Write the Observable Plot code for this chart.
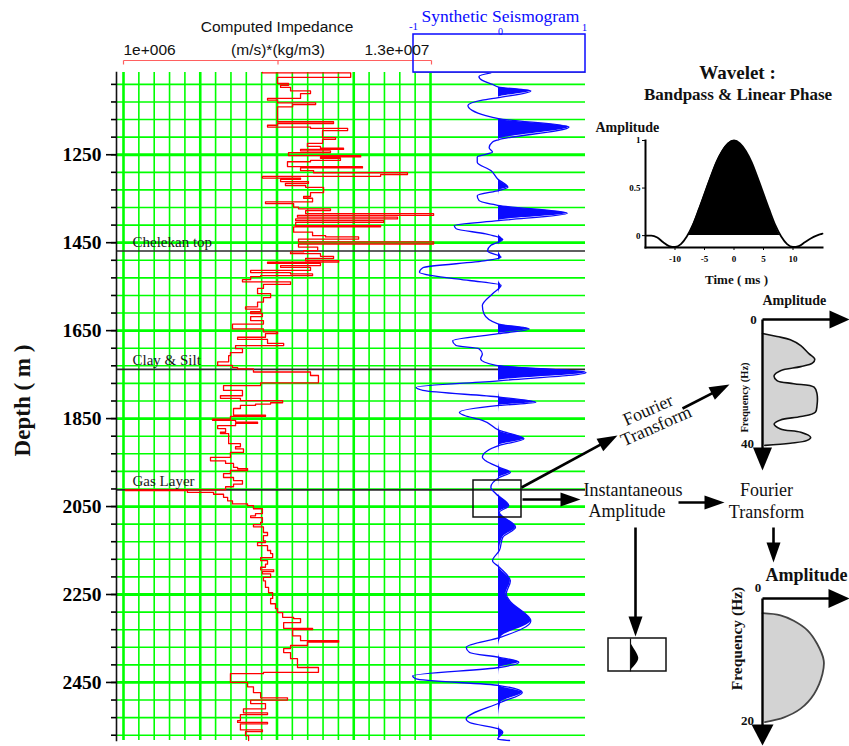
<!DOCTYPE html>
<html><head><meta charset="utf-8">
<script src="https://cdn.jsdelivr.net/npm/d3@7"></script>
<script src="https://cdn.jsdelivr.net/npm/@observablehq/plot@0.6"></script>
<style>
html,body{margin:0;padding:0;background:#fff;}
#fig{position:relative;width:849px;height:746px;overflow:hidden;background:#fff;}
</style></head><body><div id="fig"></div>
<script>
// ---------------- DATA ----------------
const depthDomain = [1063, 2582];                 // m
const depthTicks = d3.range(1090, 2571, 40);      // minor ticks / grid
const depthLabels = [1250, 1450, 1650, 1850, 2050, 2250, 2450];
const impedanceDomain = [1, 13];                  // x 1e6 (m/s)*(kg/m3)
const impedanceGrid = [1,1.6,2.2,2.8,3.4,4,4.6,5.2,5.8,6.4,7,7.6,8.2,8.8,9.4,10,10.6,11.2,11.8,12.4,13];
const impedanceBold = [1, 4, 7, 10, 13];
const impedanceEndLabels = ["1e+006", "1.3e+007"];
const formationNames = ["Chelekan top", "Clay & Silt", "Gas Layer"];
const formationDepths = [1469, 1738, 2012];
const seismoTicks = [-1, 0, 1];

// [top depth (m), impedance x1e6]
const impedanceLog = [
[1063,6.43],[1064,9.88],[1074,7.02],[1088,7.45],[1092,7.14],[1097,7.53],[1105,8.31],[1111,7.92],[1122,6.63],[1126,7.02],[1132,8.51],[1136,7.61],[1141,7.02],[1175,9.21],[1179,7.02],[1183,6.63],[1187,8.31],[1190,9.76],[1195,8.78],[1211,9.29],[1215,8.78],[1224,8.19],[1231,8.70],[1235,9.60],[1238,7.92],[1241,9.09],[1245,7.45],[1252,10.27],[1255,8.70],[1258,9.48],[1263,8.31],[1266,7.41],[1277,10.34],[1280,7.92],[1286,8.43],[1291,12.10],[1295,11.05],[1299,6.43],[1303,7.92],[1306,7.14],[1311,8.23],[1315,7.33],[1320,8.12],[1324,8.82],[1336,8.31],[1345,8.04],[1349,8.39],[1357,6.55],[1361,7.65],[1369,7.84],[1373,9.09],[1377,8.12],[1384,13.12],[1388,7.80],[1392,11.71],[1396,7.73],[1400,11.17],[1404,7.73],[1411,11.05],[1414,7.65],[1426,8.39],[1434,8.90],[1437,10.19],[1442,7.84],[1448,13.12],[1453,7.84],[1460,8.59],[1468,8.04],[1471,7.53],[1475,8.70],[1481,9.21],[1486,8.12],[1491,9.41],[1494,6.63],[1497,8.70],[1502,7.14],[1506,8.31],[1513,5.97],[1518,7.53],[1521,8.39],[1525,6.36],[1527,5.97],[1534,5.65],[1539,7.53],[1545,6.47],[1554,6.24],[1566,6.75],[1575,6.47],[1585,6.24],[1596,5.77],[1601,6.36],[1607,5.97],[1611,6.43],[1618,5.97],[1627,6.47],[1635,5.26],[1646,6.47],[1653,7.02],[1657,6.55],[1665,5.46],[1670,6.63],[1679,7.26],[1684,5.38],[1691,5.65],[1700,5.18],[1707,5.11],[1721,4.68],[1729,5.26],[1734,5.46],[1737,6.08],[1744,8.31],[1752,8.62],[1769,6.36],[1775,4.91],[1786,5.65],[1798,4.79],[1804,5.57],[1809,7.22],[1814,6.75],[1817,6.16],[1820,5.57],[1827,5.30],[1842,6.55],[1845,5.18],[1851,4.48],[1854,5.38],[1858,6.24],[1861,5.38],[1866,4.68],[1873,4.99],[1881,4.79],[1884,5.11],[1907,5.57],[1914,5.38],[1919,5.69],[1927,5.18],[1938,4.40],[1946,4.99],[1952,5.30],[1961,5.46],[1964,5.85],[1968,5.18],[1975,4.91],[1984,5.30],[1991,5.65],[1999,5.30],[2005,4.99],[2012,1.08],[2014,3.50],[2018,4.52],[2022,4.91],[2029,5.07],[2037,5.26],[2044,5.85],[2048,6.08],[2055,6.43],[2066,6.16],[2071,5.97],[2075,6.43],[2086,6.36],[2091,6.08],[2096,6.47],[2109,6.63],[2116,6.47],[2128,6.55],[2132,6.24],[2139,6.63],[2150,6.75],[2157,6.83],[2166,6.36],[2173,6.63],[2181,6.55],[2188,6.36],[2194,6.87],[2198,6.43],[2203,6.75],[2211,6.47],[2219,6.55],[2234,6.67],[2246,6.83],[2259,6.75],[2271,6.94],[2282,7.02],[2291,7.22],[2302,7.65],[2305,7.92],[2314,7.26],[2327,8.39],[2330,7.61],[2344,7.92],[2355,9.41],[2358,8.19],[2366,7.53],[2373,7.26],[2382,7.53],[2396,7.80],[2416,8.62],[2427,6.47],[2430,5.18],[2450,5.85],[2460,6.08],[2473,6.36],[2485,7.41],[2490,5.97],[2498,6.55],[2510,5.69],[2519,6.63],[2523,5.57],[2537,5.46],[2541,6.63],[2544,5.57],[2558,6.43],[2562,5.77],[2571,5.89],[2582,5.89]
];

// [depth (m), normalised amplitude]
const seismogram = [
[1064,-0.09],[1072,-0.23],[1081,-0.19],[1090,-0.07],[1096,0],[1105,0.38],[1120,0],[1126,-0.19],[1138,-0.36],[1149,-0.31],[1161,-0.15],[1168,0],[1187,0.83],[1216,0],[1221,-0.07],[1234,-0.11],[1244,-0.07],[1255,-0.25],[1267,-0.25],[1286,-0.09],[1305,-0.01],[1324,0.11],[1331,0.01],[1343,-0.25],[1354,-0.23],[1365,-0.01],[1383,0.81],[1400,0],[1411,-0.52],[1418,-0.50],[1430,-0.15],[1443,0.05],[1456,-0.09],[1469,-0.13],[1483,0.03],[1491,-0.15],[1507,-0.89],[1517,-0.93],[1525,-0.78],[1536,-0.34],[1547,0.03],[1566,-0.07],[1593,-0.19],[1612,-0.17],[1635,0],[1646,0.36],[1657,0],[1673,-0.54],[1684,-0.50],[1691,-0.23],[1703,-0.19],[1714,-0.21],[1729,-0.03],[1745,1.03],[1764,0],[1779,-0.97],[1786,-0.89],[1801,0.01],[1813,0.44],[1820,0.01],[1836,-0.46],[1843,-0.40],[1854,-0.19],[1877,0.01],[1896,0.30],[1911,0.01],[1938,-0.19],[1946,-0.15],[1961,0.01],[1972,0.14],[1984,0.01],[2006,-0.09],[2021,-0.03],[2048,0.12],[2063,0.01],[2097,0.20],[2120,0.05],[2150,0.01],[2173,-0.07],[2188,0.01],[2219,0.14],[2249,0.09],[2264,0.13],[2310,0.38],[2347,0.03],[2370,-0.38],[2382,-0.34],[2393,0.01],[2404,0.24],[2416,0.01],[2435,-1.01],[2442,-0.97],[2457,0.01],[2473,0.28],[2495,0.03],[2533,-0.38],[2541,-0.34],[2556,0.01],[2564,0.05],[2579,-0.01],[2582,0.13]
];

// wavelet: time (ms) and amplitude
const waveletTime = [-15,-14,-13,-12,-11,-10,-9,-8,-7,-6,-5,-4,-3,-2,-1,0,1,2,3,4,5,6,7,8,9,10,11,12,13,14,15];
const waveletAmp  = [0,0,-0.02,-0.07,-0.11,-0.12,-0.09,-0.01,0.11,0.27,0.44,0.61,0.77,0.89,0.97,1,0.97,0.89,0.77,0.61,0.44,0.27,0.11,-0.01,-0.09,-0.12,-0.11,-0.07,-0.03,0,0.02];
const waveletYTicks = [0, 0.5, 1];
const waveletXTicks = [-10, -5, 0, 5, 10];

// amplitude spectra: [frequency (Hz), relative amplitude]
const spectrumTrace = [[4.5,0],[5.5,0.25],[6.5,0.48],[8.4,0.66],[11,0.8],[12.7,0.9],[14.1,0.86],[15.2,0.66],[16.5,0.31],[18.1,0.2],[19.7,0.25],[20.7,0.54],[21.8,0.89],[24,0.94],[27.7,0.94],[29.9,0.91],[31.3,0.66],[32.4,0.31],[33.7,0.2],[35.3,0.31],[36.4,0.66],[38,0.83],[39,0.77],[39.9,0.48],[40.6,0.04]];
const spectrumEnvelope = [[2.45,0],[2.8,0.3],[3.7,0.52],[5.3,0.75],[7.55,0.91],[10.3,1.02],[12.55,1.0],[15.9,0.86],[18.4,0.63],[19.8,0.36],[20.6,0.04]];
// instantaneous amplitude of the windowed trace: [relative time, amplitude]
const instAmplitude = [[0.14,0],[0.25,0.2],[0.38,0.42],[0.5,0.6],[0.6,0.69],[0.7,0.62],[0.8,0.42],[0.9,0.18],[0.97,0]];

// ---------------- STYLE / HELPERS ----------------
const W = 849, H = 746;
const GREEN = "#00ff00", RED = "#ff0000", BLUE = "#0a0aff";
const SERIF = "'Liberation Serif','DejaVu Serif',serif";
const SANS = "'Liberation Sans','DejaVu Sans',sans-serif";
const fig = document.getElementById("fig");
const layerStyle = (extra) => Object.assign({background:"transparent", position:"absolute", left:"0px", top:"0px", overflow:"visible", fontFamily: SERIF}, extra || {});
function add(p){ fig.appendChild(p); return p; }

// ---------------- MAIN PANEL: impedance log ----------------
const formations = formationNames.map((name, i) => ({name, depth: formationDepths[i]}));
const main = add(Plot.plot({
  width: W, height: H,
  marginLeft: 116, marginRight: 264, marginTop: 72, marginBottom: 6,
  style: layerStyle({fontSize: "19.5px", fontWeight: "bold", color: "#000"}),
  x: {domain: impedanceDomain, range: [123, 430], axis: null},
  y: {domain: depthDomain, reverse: true, axis: null},
  marks: [
    Plot.ruleX(impedanceGrid.filter(v => !impedanceBold.includes(v)), {stroke: GREEN, strokeWidth: 1.6}),
    Plot.ruleX(impedanceBold, {stroke: GREEN, strokeWidth: 2.6}),
    Plot.ruleY(depthTicks.filter(d => !depthLabels.includes(d)), {stroke: GREEN, strokeWidth: 1.6}),
    Plot.ruleY(depthLabels, {stroke: GREEN, strokeWidth: 2.8}),
    Plot.ruleY(formations, {y: "depth", stroke: "#2a2a2a", strokeWidth: 1.6}),
    Plot.text(formations, {y: "depth", text: "name", frameAnchor: "left", dx: 16, dy: -4, lineAnchor: "bottom", textAnchor: "start", fontSize: 15, fontWeight: "normal", fill: "#1a1a1a"}),
    Plot.line(impedanceLog, {x: d => d[1], y: d => d[0], curve: "step-before", stroke: RED, strokeWidth: 1.3}),
    Plot.frame({anchor: "left", stroke: "#111", strokeWidth: 1.6}),
    Plot.axisY(depthTicks, {tickSize: 5, tickFormat: () => "", strokeWidth: 1.6, label: null}),
    Plot.axisY(depthLabels, {tickSize: 10, tickPadding: 5, tickFormat: d => String(d), strokeWidth: 1.6, label: null}),
    Plot.text(["Depth ( m )"], {frameAnchor: "left", textAnchor: "middle", lineAnchor: "middle", rotate: -90, dx: -94, dy: -6, fontSize: 23, fontWeight: "bold", fill: "#111"})
  ]
}));

// ---------------- SEISMOGRAM PANEL ----------------
const seis = add(Plot.plot({
  width: W, height: H,
  marginLeft: 413, marginRight: 266, marginTop: 72, marginBottom: 6,
  style: layerStyle(),
  x: {domain: [-1, 1], axis: null},
  y: {domain: depthDomain, reverse: true, axis: null},
  marks: [
    Plot.areaX(seismogram, {y: d => d[0], x1: 0, x2: d => Math.max(0, d[1]), curve: "monotone-y", fill: BLUE}),
    Plot.lineX(seismogram, {y: d => d[0], x: d => d[1], curve: "monotone-y", stroke: BLUE, strokeWidth: 1.3})
  ]
}));

// ---------------- WAVELET INSET ----------------
const wavelet = waveletTime.map((t, i) => ({t, a: waveletAmp[i]}));
add(Plot.plot({
  width: W, height: H,
  marginLeft: 645, marginRight: 27, marginTop: 140, marginBottom: 499,
  style: layerStyle({fontSize: "9px", fontWeight: "bold"}),
  x: {domain: [-15, 15], axis: null},
  y: {domain: [-0.125, 1], axis: null},
  marks: [
    Plot.areaY(wavelet, {x: "t", y1: 0, y2: d => Math.max(0, d.a), curve: "monotone-x", fill: "#000"}),
    Plot.lineY(wavelet, {x: "t", y: "a", curve: "monotone-x", stroke: "#000", strokeWidth: 1.8}),
    Plot.frame({anchor: "left", stroke: "#000", strokeWidth: 2}),
    Plot.frame({anchor: "bottom", stroke: "#000", strokeWidth: 2}),
    Plot.axisY(waveletYTicks, {tickSize: 3, tickPadding: 2, tickFormat: d => String(d), label: null}),
    Plot.axisX(waveletXTicks, {tickSize: 3, tickPadding: 5, tickFormat: d => String(d), label: null})
  ]
}));

// ---------------- SPECTRA ----------------
function spectrumPlot(data, ml, mr, mt, mb, fmax, outline, sw) {
  return Plot.plot({
    width: W, height: H, marginLeft: ml, marginRight: mr, marginTop: mt, marginBottom: mb,
    style: layerStyle(),
    x: {domain: [0, 1], axis: null},
    y: {domain: [0, fmax], reverse: true, axis: null},
    marks: [
      Plot.areaX(data, {y: d => d[0], x1: 0, x2: d => d[1], curve: "catmull-rom", fill: "#d3d3d3"}),
      Plot.lineX(data, {y: d => d[0], x: d => d[1], curve: "catmull-rom", stroke: outline, strokeWidth: sw})
    ]
  });
}
add(spectrumPlot(spectrumTrace, 762, 29, 319, 303, 40, "#111", 1.6));
add(spectrumPlot(spectrumEnvelope, 762, 27, 598, 28, 20, "#444", 1.8));

// instantaneous amplitude mini panel
add(Plot.plot({
  width: W, height: H, marginLeft: 630, marginRight: 207, marginTop: 638, marginBottom: 75,
  style: layerStyle(),
  x: {domain: [0, 1], axis: null},
  y: {domain: [0, 1], reverse: true, axis: null},
  marks: [
    Plot.areaX(instAmplitude, {y: d => d[0], x1: 0, x2: d => d[1], curve: "catmull-rom", fill: "#000"})
  ]
}));

// ---------------- ANNOTATION LAYER ----------------
const mx = main.scale("x"), sx = seis.scale("x");
const impL = mx.apply(impedanceDomain[0]), impR = mx.apply(impedanceDomain[1]), impC = (impL + impR) / 2;
const sL = sx.apply(-1), sR = sx.apply(1), s0 = sx.apply(0);

const labelTexts = [
  {text: "Computed Impedance", x: impC, y: 31.5, size: 15.5, family: SANS, weight: "normal"},
  {text: "(m/s)*(kg/m3)", x: impC + 1, y: 54.5, size: 15.5, family: SANS, weight: "normal"},
  {text: impedanceEndLabels[0], x: impL, y: 54.5, size: 15.5, family: SANS, weight: "normal", anchor: "start"},
  {text: impedanceEndLabels[1], x: impR - 1, y: 54.5, size: 15.5, family: SANS, weight: "normal", anchor: "end"},
  {text: "Synthetic Seismogram", x: s0 + 2, y: 21, size: 17.5, color: BLUE, weight: "normal"},
  {text: String(seismoTicks[0]), x: sL, y: 29, size: 11, color: BLUE, weight: "normal"},
  {text: String(seismoTicks[1]), x: s0 + 2, y: 34.5, size: 10, color: BLUE, weight: "normal"},
  {text: String(seismoTicks[2]), x: sR + 1, y: 30, size: 11, color: BLUE, weight: "normal"},
  {text: "Wavelet :", x: 737, y: 78, size: 19, weight: "bold"},
  {text: "Bandpass & Linear Phase", x: 737.5, y: 99.5, size: 17, weight: "bold"},
  {text: "Amplitude", x: 595, y: 131.5, size: 14, weight: "bold", anchor: "start"},
  {text: "Time ( ms )", x: 736, y: 283, size: 13, weight: "bold"},
  {text: "Amplitude", x: 762, y: 304, size: 14, weight: "bold", anchor: "start"},
  {text: "0", x: 753, y: 323.5, size: 13, weight: "bold"},
  {text: "40", x: 747, y: 447.5, size: 13, weight: "bold"},
  {text: "Frequency (Hz)", x: 744, y: 397, size: 10.5, weight: "bold", rotate: -90, line: "middle"},
  {text: "Amplitude", x: 765, y: 580, size: 18, weight: "bold", anchor: "start"},
  {text: "0", x: 757.5, y: 591, size: 13, weight: "bold"},
  {text: "20", x: 747, y: 724, size: 13, weight: "bold"},
  {text: "Frequency (Hz)", x: 737, y: 638, size: 15.5, weight: "bold", rotate: -90, line: "middle"},
  {text: "Instantaneous", x: 583, y: 495, size: 18, weight: "normal", anchor: "start"},
  {text: "Amplitude", x: 588, y: 516, size: 18, weight: "normal", anchor: "start"},
  {text: "Fourier", x: 766, y: 495, size: 18, weight: "normal"},
  {text: "Transform", x: 766, y: 517, size: 18, weight: "normal"},
  {text: "Fourier", x: 647.5, y: 409.5, size: 18, weight: "normal", rotate: -24, line: "middle"},
  {text: "Transform", x: 655.5, y: 425.5, size: 18, weight: "normal", rotate: -24, line: "middle"}
];

const boxes = [
  {x1: sL, y1: 34, x2: sR + 2, y2: 72, stroke: BLUE},
  {x1: 473, y1: 480, x2: 521, y2: 517, stroke: "#111"},
  {x1: 608, y1: 638, x2: 666, y2: 671, stroke: "#111"}
];
const thinLines = [
  {x1: impL, y1: 60, x2: impR + 1, y2: 60, stroke: "#ff6060"},
  {x1: impL, y1: 60, x2: impL, y2: 64, stroke: "#ff6060"},
  {x1: impC + 1, y1: 60, x2: impC + 1, y2: 64, stroke: "#ff6060"},
  {x1: impR + 1, y1: 60, x2: impR + 1, y2: 64, stroke: "#ff6060"},
  {x1: sL, y1: 72, x2: sR + 2, y2: 72, stroke: "#888"},
  {x1: 630, y1: 638, x2: 630, y2: 671, stroke: "#111"}
];
const flowArrows = [
  {x1: 521, y1: 487, x2: 617, y2: 435},
  {x1: 682, y1: 408, x2: 729, y2: 384},
  {x1: 522, y1: 499, x2: 580, y2: 499},
  {x1: 678, y1: 502, x2: 724, y2: 502},
  {x1: 773, y1: 527, x2: 773, y2: 562},
  {x1: 635, y1: 527, x2: 635, y2: 636}
];
const axisArrows = [
  {x1: 762, y1: 319, x2: 849, y2: 319, len: 20, wid: 18},
  {x1: 762, y1: 319, x2: 762, y2: 470, len: 23, wid: 19},
  {x1: 762, y1: 598, x2: 849, y2: 598, len: 21, wid: 19},
  {x1: 762, y1: 598, x2: 762, y2: 745, len: 21, wid: 22}
];

function headSymbol(len, wid) {
  return {draw(ctx) { ctx.moveTo(0, 0); ctx.lineTo(-wid / 2, len); ctx.lineTo(wid / 2, len); ctx.closePath(); }};
}
function arrowMarks(list, defLen, defWid, sw) {
  const out = [];
  list.forEach(a => {
    const len = a.len || defLen, wid = a.wid || defWid;
    const ang = Math.atan2(a.y2 - a.y1, a.x2 - a.x1);
    const d = {...a, ex: a.x2 - Math.cos(ang) * len * 0.6, ey: a.y2 - Math.sin(ang) * len * 0.6, rot: ang * 180 / Math.PI + 90};
    out.push(Plot.link([d], {x1: "x1", y1: "y1", x2: "ex", y2: "ey", stroke: "#000", strokeWidth: sw}));
    out.push(Plot.dot([d], {x: "x2", y: "y2", rotate: "rot", symbol: headSymbol(len, wid), fill: "#000", r: 5}));
  });
  return out;
}

add(Plot.plot({
  width: W, height: H, margin: 0,
  style: layerStyle(),
  x: {type: "identity", axis: null},
  y: {type: "identity", axis: null},
  marks: [
    ...thinLines.map(l => Plot.link([l], {x1: "x1", y1: "y1", x2: "x2", y2: "y2", stroke: l.stroke, strokeWidth: 1.2})),
    ...boxes.map(b => Plot.rect([b], {x1: "x1", y1: "y1", x2: "x2", y2: "y2", fill: "none", stroke: b.stroke, strokeWidth: 1.5})),
    ...arrowMarks(flowArrows, 20, 14, 2.6),
    ...arrowMarks(axisArrows, 20, 18, 2.4),
    ...labelTexts.map(t => Plot.text([t], {
      x: "x", y: "y", text: "text", fontSize: t.size, fontWeight: t.weight || "normal",
      fontFamily: t.family || SERIF, textAnchor: t.anchor || "middle", lineAnchor: t.line || "bottom",
      fill: t.color || "#111", rotate: t.rotate || 0
    }))
  ]
}));
</script></body></html>
